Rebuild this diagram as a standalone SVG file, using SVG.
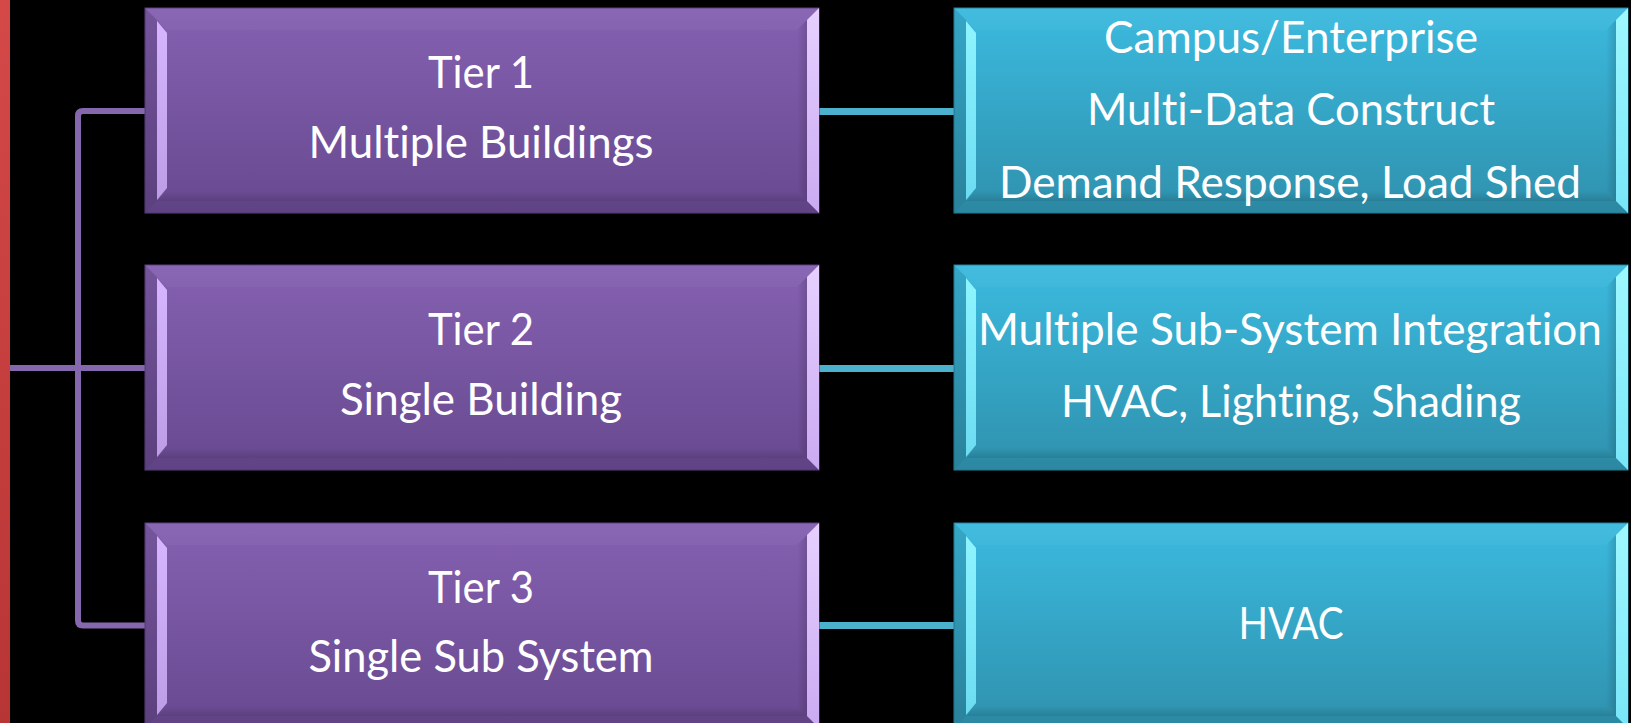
<svg xmlns="http://www.w3.org/2000/svg" xmlns:xlink="http://www.w3.org/1999/xlink" width="1631" height="723" viewBox="0 0 1631 723">
  <style>
    .lbl { font-family: Lato, "Open Sans", "Liberation Sans", sans-serif; font-size: 45px; fill: #ffffff; text-anchor: middle; font-variant-ligatures: none; }
    .conn-p { fill: none; stroke: #8467ad; stroke-width: 6; stroke-linejoin: round; }
    .conn-c { fill: none; stroke: #4bb1cd; stroke-width: 7; }
  </style>
  <defs>
    <linearGradient id="redBar" x1="0" y1="0" x2="0" y2="1">
      <stop offset="0" stop-color="#d44848"/>
      <stop offset="1" stop-color="#b83535"/>
    </linearGradient>
    <linearGradient id="purpleFace" x1="0" y1="0" x2="0" y2="1">
      <stop offset="0" stop-color="#8561b1"/>
      <stop offset="1" stop-color="#684990"/>
    </linearGradient>
    <linearGradient id="cyanFace" x1="0" y1="0" x2="0" y2="1">
      <stop offset="0" stop-color="#3bbadf"/>
      <stop offset="1" stop-color="#2f91ad"/>
    </linearGradient>
    <linearGradient id="purpleHi" x1="0" y1="0" x2="0" y2="1">
      <stop offset="0" stop-color="#d6b6ff"/>
      <stop offset="1" stop-color="#bd9de6"/>
    </linearGradient>
    <linearGradient id="purpleHiR" x1="0" y1="0" x2="0" y2="1">
      <stop offset="0" stop-color="#e6d0ff"/>
      <stop offset="1" stop-color="#caaaf2"/>
    </linearGradient>
    <linearGradient id="cyanHi" x1="0" y1="0" x2="0" y2="1">
      <stop offset="0" stop-color="#8ef4ff"/>
      <stop offset="1" stop-color="#6cdcf2"/>
    </linearGradient>
    <linearGradient id="cyanHiR" x1="0" y1="0" x2="0" y2="1">
      <stop offset="0" stop-color="#9ff8ff"/>
      <stop offset="1" stop-color="#78e6f8"/>
    </linearGradient>
    <linearGradient id="shadeR" x1="0" y1="0" x2="1" y2="0">
      <stop offset="0" stop-color="#000" stop-opacity="0"/>
      <stop offset="1" stop-color="#000" stop-opacity="0.14"/>
    </linearGradient>
    <linearGradient id="shadeB" x1="0" y1="0" x2="0" y2="1">
      <stop offset="0" stop-color="#000" stop-opacity="0"/>
      <stop offset="1" stop-color="#000" stop-opacity="0.14"/>
    </linearGradient>

    <!-- bevelled tile, 674 x 205, purple -->
    <g id="purpleTile">
      <rect x="0" y="0" width="674" height="205" fill="url(#purpleFace)" stroke="#5a3e7e" stroke-width="1"/>
      <polygon points="0,0 674,0 662,12 12,12" fill="#ffffff" fill-opacity="0.04"/>
      <polygon points="12,12 662,12 652,22 22,22" fill="#ffffff" fill-opacity="0.03"/>
      <polygon points="22,183 652,183 662,193 12,193" fill="url(#shadeB)"/>
      <polygon points="0,205 674,205 662,193 12,193" fill="#000" fill-opacity="0.08"/>
      <polygon points="0,0 12,12 12,193 0,205" fill="#000" fill-opacity="0.12"/>
      <polygon points="12,13 22,25 22,180 12,192" fill="url(#purpleHi)"/>
      <polygon points="652,22 662,12 662,193 652,183" fill="url(#shadeR)"/>
      <polygon points="662,12 674,0 674,205 662,193" fill="url(#purpleHiR)"/>
    </g>

    <!-- bevelled tile, 674 x 205, cyan -->
    <g id="cyanTile">
      <rect x="0" y="0" width="674" height="205" fill="url(#cyanFace)" stroke="#27809a" stroke-width="1"/>
      <polygon points="0,0 674,0 662,12 12,12" fill="#ffffff" fill-opacity="0.04"/>
      <polygon points="12,12 662,12 652,22 22,22" fill="#ffffff" fill-opacity="0.03"/>
      <polygon points="22,183 652,183 662,193 12,193" fill="url(#shadeB)"/>
      <polygon points="0,205 674,205 662,193 12,193" fill="#000" fill-opacity="0.06"/>
      <polygon points="0,0 12,12 12,193 0,205" fill="#000" fill-opacity="0.1"/>
      <polygon points="12,13 22,25 22,180 12,192" fill="url(#cyanHi)"/>
      <polygon points="652,22 662,12 662,193 652,183" fill="url(#shadeR)"/>
      <polygon points="662,12 674,0 674,205 662,193" fill="url(#cyanHiR)"/>
    </g>
  </defs>

  <rect x="0" y="0" width="1631" height="723" fill="#000000"/>

  <!-- left edge bar -->
  <rect id="edge-bar" x="0" y="0" width="10" height="723" fill="url(#redBar)"/>

  <!-- connectors -->
  <g id="connectors">
    <path class="conn-p" d="M 145 111 H 83 Q 78 111 78 116 V 620.5 Q 78 625.5 83 625.5 H 145"/>
    <path class="conn-p" d="M 10 368 H 145"/>
    <path class="conn-c" d="M 819 111.5 H 954"/>
    <path class="conn-c" d="M 819 368.5 H 954"/>
    <path class="conn-c" d="M 819 625.5 H 954"/>
  </g>

  <!-- tier nodes -->
  <g id="tier1">
    <use xlink:href="#purpleTile" x="145" y="8"/>
    <text class="lbl" x="481" y="88" textLength="106" lengthAdjust="spacingAndGlyphs">Tier 1</text>
    <text class="lbl" x="481" y="158" textLength="345" lengthAdjust="spacingAndGlyphs">Multiple Buildings</text>
  </g>
  <g id="tier2">
    <use xlink:href="#purpleTile" x="145" y="265"/>
    <text class="lbl" x="481" y="345" textLength="106" lengthAdjust="spacingAndGlyphs">Tier 2</text>
    <text class="lbl" x="481" y="415" textLength="282" lengthAdjust="spacingAndGlyphs">Single Building</text>
  </g>
  <g id="tier3">
    <use xlink:href="#purpleTile" x="145" y="523"/>
    <text class="lbl" x="481" y="603" textLength="106" lengthAdjust="spacingAndGlyphs">Tier 3</text>
    <text class="lbl" x="481" y="672" textLength="345" lengthAdjust="spacingAndGlyphs">Single Sub System</text>
  </g>

  <!-- scope nodes -->
  <g id="scope1">
    <use xlink:href="#cyanTile" x="954" y="8"/>
    <text class="lbl" x="1291" y="53" textLength="374" lengthAdjust="spacingAndGlyphs">Campus/Enterprise</text>
    <text class="lbl" x="1291" y="125" textLength="408" lengthAdjust="spacingAndGlyphs">Multi-Data Construct</text>
    <text class="lbl" x="1290" y="198" textLength="582" lengthAdjust="spacingAndGlyphs">Demand Response, Load Shed</text>
  </g>
  <g id="scope2">
    <use xlink:href="#cyanTile" x="954" y="265"/>
    <text class="lbl" x="1290" y="345" textLength="624" lengthAdjust="spacingAndGlyphs">Multiple Sub-System Integration</text>
    <text class="lbl" x="1291" y="417" textLength="460" lengthAdjust="spacingAndGlyphs">HVAC, Lighting, Shading</text>
  </g>
  <g id="scope3">
    <use xlink:href="#cyanTile" x="954" y="523"/>
    <text class="lbl" x="1291" y="639" textLength="105" lengthAdjust="spacingAndGlyphs">HVAC</text>
  </g>
</svg>
